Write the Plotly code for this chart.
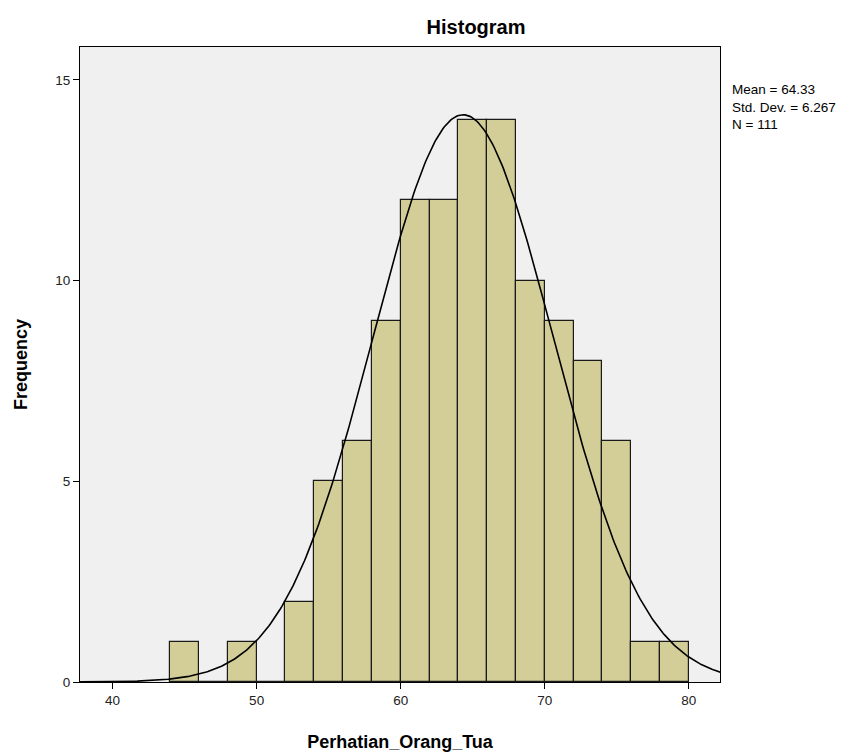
import numpy as np
import plotly.graph_objects as go

bin_starts = [44, 46, 48, 50, 52, 54, 56, 58, 60, 62, 64, 66, 68, 70, 72, 74, 76, 78]
counts = [1, 0, 1, 0, 2, 5, 6, 9, 12, 12, 14, 14, 10, 9, 8, 6, 1, 1]
bin_width = 2
mean_val = 64.33
std_val = 6.267
n_val = 111
x_ticks = [40, 50, 60, 70, 80]
y_ticks = [0, 5, 10, 15]

centers = [b + bin_width / 2 for b in bin_starts]

xs = np.linspace(37.7, 82.2, 400)
ys = n_val * bin_width * np.exp(-0.5 * ((xs - mean_val) / std_val) ** 2) / (std_val * np.sqrt(2 * np.pi))

fig = go.Figure()
fig.add_trace(go.Bar(
    x=centers, y=counts, width=bin_width,
    marker=dict(color="rgb(211,206,151)", line=dict(color="#1a1a1a", width=1.2)),
    hoverinfo="x+y", showlegend=False,
))
fig.add_trace(go.Scatter(
    x=xs, y=ys, mode="lines", line=dict(color="black", width=1.6),
    showlegend=False, hoverinfo="skip",
))

font = "Liberation Sans, Arial, sans-serif"
fig.update_layout(
    width=862, height=753,
    margin=dict(l=72, r=150, t=39, b=75),
    paper_bgcolor="white", plot_bgcolor="#F0F0F0",
    bargap=0,
    font=dict(family=font, size=13, color="black"),
    title=dict(text="<b>Histogram</b>", x=0.543, xanchor="center", y=0.975, yanchor="middle",
               font=dict(size=20, family=font, color="black")),
    xaxis=dict(range=[37.74, 82.16], tickvals=x_ticks, ticks="outside", ticklen=6,
               tickcolor="black", showgrid=False, zeroline=False,
               showline=True, linecolor="black", linewidth=1, mirror=True,
               tickfont=dict(size=13.5, color="#222"),
               title=dict(text="<b>Perhatian_Orang_Tua</b>", font=dict(size=18), standoff=28)),
    yaxis=dict(range=[0, 15.82], tickvals=y_ticks, ticks="outside", ticklen=6,
               tickcolor="black", showgrid=False, zeroline=False,
               showline=True, linecolor="black", linewidth=1, mirror=True,
               tickfont=dict(size=13.5, color="#222"),
               title=dict(text="<b>Frequency</b>", font=dict(size=18), standoff=22)),
    annotations=[dict(
        text=f"Mean = {mean_val:.2f}<br>Std. Dev. = {std_val:.3f}<br>N = {n_val}",
        xref="paper", yref="paper", x=1.016, y=0.948, xanchor="left", yanchor="top",
        align="left", showarrow=False, font=dict(size=13.5, color="black", family=font),
    )],
)

fig.write_html("out.html")
